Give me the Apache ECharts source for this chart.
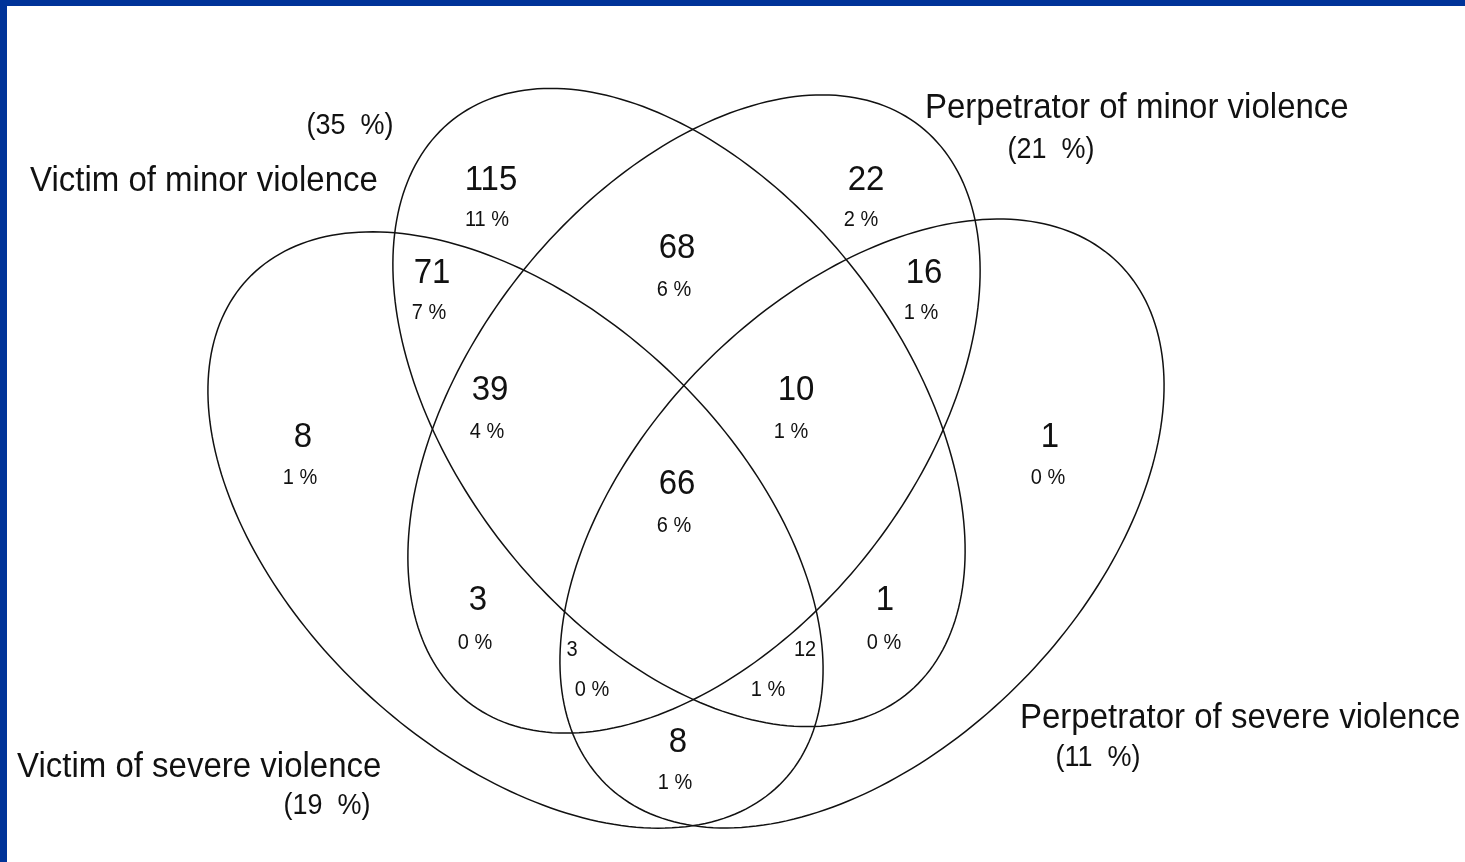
<!DOCTYPE html>
<html>
<head>
<meta charset="utf-8">
<title>Violence Venn diagram</title>
<script src="https://cdn.jsdelivr.net/npm/echarts@6/dist/echarts.min.js"></script>
<style>
    html, body { margin: 0; padding: 0; width: 1465px; height: 862px; background: #003399; overflow: hidden; }
    #chartExample { position: absolute; left: 7px; top: 6px; width: 1458px; height: 856px; background: #ffffff; }
</style>
</head>
<body>
<div id="chartExample"></div>
<script>
// sets and their share of the sample
var setNames = ['Victim of minor violence', 'Perpetrator of minor violence', 'Victim of severe violence', 'Perpetrator of severe violence'];
var setShares = [35, 21, 19, 11];

// region counts and percents
var regionCounts = [115, 22, 68, 71, 16, 39, 10, 8, 1, 66, 3, 1, 3, 12, 8];
var regionPercents = [11, 2, 6, 7, 1, 4, 1, 1, 0, 6, 0, 0, 0, 1, 1];

// layout (in axis units, equal to pixels of the picture)
// ellipses: cx, cy, semi major, semi minor, rotation (deg)
var ellipseGeom = [
    [679, 407.5, 366, 223, 51.85],
    [694, 414, 366, 223, 128.15],
    [515.5, 530, 367, 221, 43.1],
    [862, 523.5, 365.5, 224.4, 134.5]
];
var setNamePos = [[30, 181], [925, 108], [17, 767], [1020, 718]];
var setSharePos = [[350, 126], [1051, 150], [327, 806], [1098, 758]];
var countPos = [[491, 180], [866, 180], [677, 248], [432, 273], [924, 273], [490, 390], [796, 390],
    [303, 437], [1050, 437], [677, 484], [478, 600], [885, 600], [572, 650], [805, 650], [678, 742]];
var percentPos = [[487, 220], [861, 220], [674, 290], [429, 313], [921, 313], [487, 432], [791, 432],
    [300, 478], [1048, 478], [674, 526], [475, 643], [884, 643], [592, 690], [768, 690], [675, 783]];
var smallCount = [12, 13]; // these counts are printed small

var FONT = 'Liberation Sans, Arial, sans-serif';
var INK = '#111111';

function drawEllipse(params, api) {
    var cx = api.value(0), cy = api.value(1), a = api.value(2), b = api.value(3);
    var rot = api.value(4) * Math.PI / 180;
    var pts = [];
    for (var i = 0; i < 240; i++) {
        var t = i / 240 * Math.PI * 2;
        var x = cx + a * Math.cos(t) * Math.cos(rot) - b * Math.sin(t) * Math.sin(rot);
        var y = cy + a * Math.cos(t) * Math.sin(rot) + b * Math.sin(t) * Math.cos(rot);
        pts.push(api.coord([x, y]));
    }
    return {
        type: 'polygon',
        shape: { points: pts },
        style: { fill: 'none', stroke: INK, lineWidth: 1.5 }
    };
}

function drawText(params, api) {
    var p = api.coord([api.value(0), api.value(1)]);
    var d = textData[params.dataIndex];
    return {
        type: 'text',
        x: p[0],
        y: p[1],
        scaleY: 1.06,
        style: {
            text: d.text,
            fontSize: d.size,
            fontFamily: FONT,
            fill: INK,
            align: d.align,
            verticalAlign: 'middle'
        }
    };
}

// build label list
var textData = [];
setNames.forEach(function (name, i) {
    textData.push({ value: setNamePos[i], text: name, size: 33, align: 'left' });
    textData.push({ value: setSharePos[i], text: '(' + setShares[i] + '  %)', size: 27, align: 'center' });
});
regionCounts.forEach(function (c, i) {
    var small = smallCount.indexOf(i) >= 0;
    textData.push({ value: countPos[i], text: String(c), size: small ? 20 : 33, align: 'center' });
    textData.push({ value: percentPos[i], text: regionPercents[i] + ' %', size: 20, align: 'center' });
});

var myChart = echarts.init(document.getElementById('chartExample'));
var option = {
    animation: false,
    grid: { left: 0, right: 0, top: 0, bottom: 0 },
    xAxis: { type: 'value', min: 7, max: 1465, show: false },
    yAxis: { type: 'value', min: 6, max: 862, inverse: true, show: false },
    series: [
        {
            type: 'custom',
            silent: true,
            renderItem: drawEllipse,
            data: ellipseGeom
        },
        {
            type: 'custom',
            silent: true,
            renderItem: drawText,
            data: textData.map(function (d) { return d.value; })
        }
    ]
};
myChart.setOption(option);
</script>
</body>
</html>
